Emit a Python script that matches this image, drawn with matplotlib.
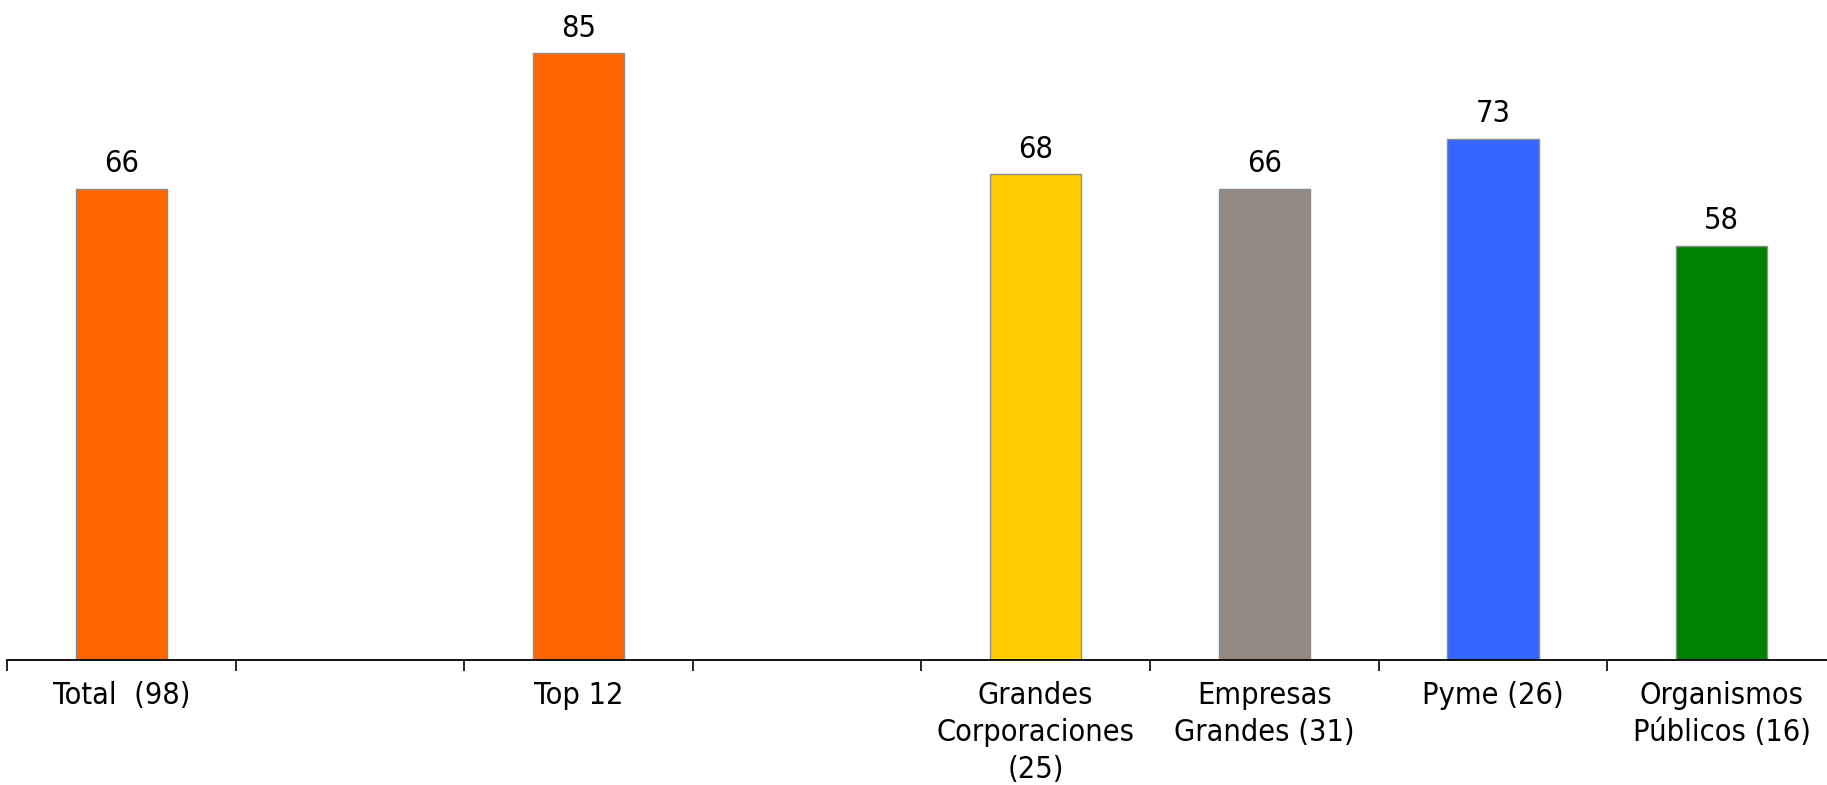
import matplotlib
matplotlib.use("Agg")
import matplotlib.pyplot as plt
from matplotlib import font_manager as fm
import numpy as np

categories = ["Total  (98)", "", "Top 12", "", "Grandes\nCorporaciones\n(25)",
              "Empresas\nGrandes (31)", "Pyme (26)", "Organismos\nPúblicos (16)"]
values = [66, None, 85, None, 68, 66, 73, 58]
colors = ["#FF6600", None, "#FF6600", None, "#FFCC00", "#948A84", "#3366FF", "#008000"]

# font choice: condensed DejaVu if available, else Liberation Sans
cond = [f for f in fm.fontManager.ttflist if f.name == "DejaVu Sans" and "ondensed" in str(f.stretch) + f.fname]
if cond:
    fprops = dict(family="DejaVu Sans", stretch="condensed", size=22)
else:
    fprops = dict(family="Liberation Sans", size=22)

W, H = 1827, 785
fig = plt.figure(figsize=(W / 100, H / 100), dpi=100)
left = 7 / W
bottom = 1 - 660 / H
ax = fig.add_axes([left, bottom, 8 * 228.6 / W, 642.6 / H])

x = np.arange(len(categories))
for xi, v, c in zip(x, values, colors):
    if v is None:
        continue
    ax.bar(xi, v, width=0.4, color=c, edgecolor="#8C8C8C", linewidth=1.0, zorder=2)
    ax.annotate(str(v), (xi, v), xytext=(0, 18), textcoords="offset points",
                ha="center", va="center", **fprops)

ax.set_xlim(-0.5, len(categories) - 0.5)
ax.set_ylim(0, 90)
for s in ["top", "right", "left"]:
    ax.spines[s].set_visible(False)
ax.spines["bottom"].set_linewidth(1.3)
ax.set_yticks([])

ax.set_xticks(x)
ax.set_xticklabels(categories, linespacing=1.36, **fprops)
ax.tick_params(axis="x", which="major", length=0, pad=15)
ax.set_xticks(np.arange(-0.5, len(categories) + 0.5, 1), minor=True)
ax.tick_params(axis="x", which="minor", length=8, width=1.2, direction="out")

fig.savefig("out.png", dpi=100)
